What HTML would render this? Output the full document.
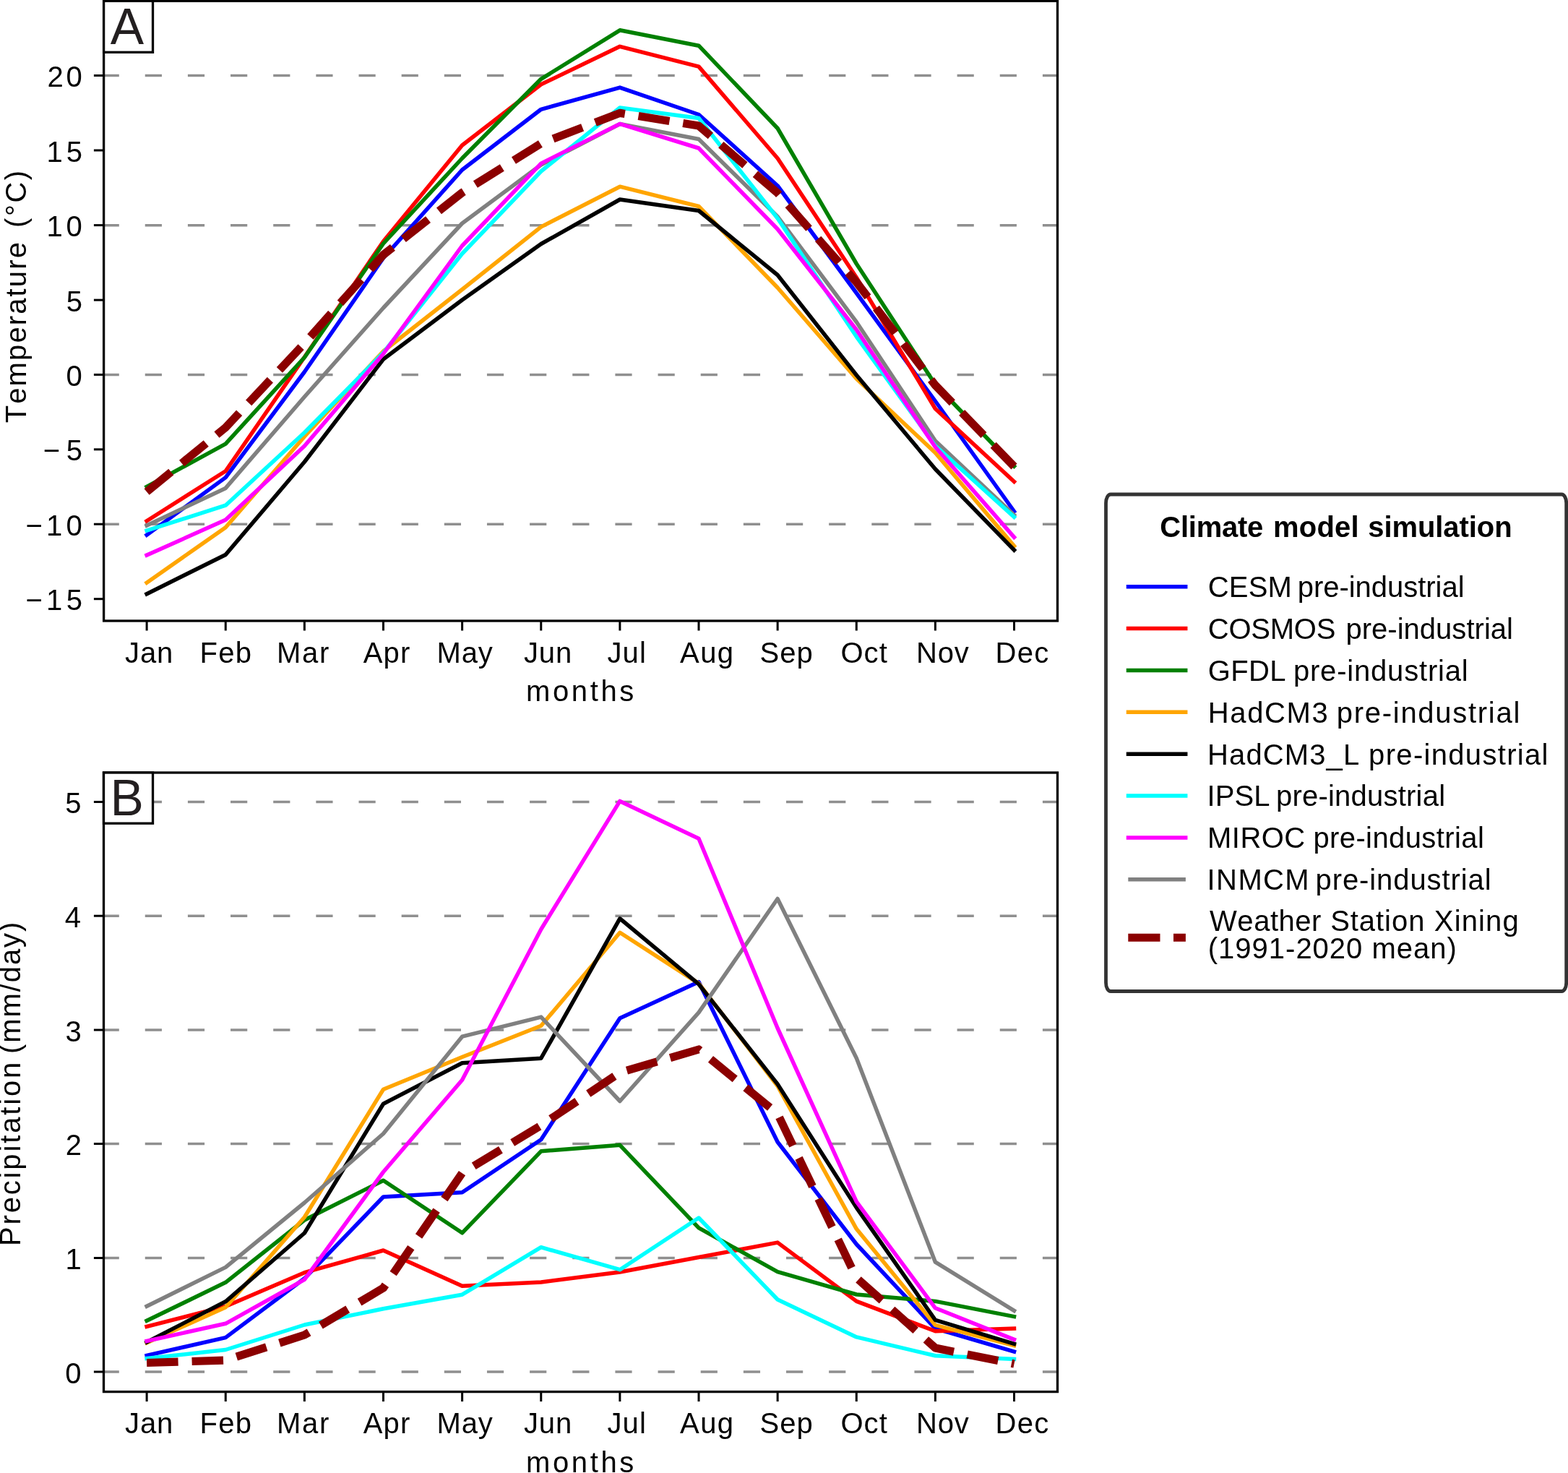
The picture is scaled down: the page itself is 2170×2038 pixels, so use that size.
<!DOCTYPE html>
<html><head><meta charset="utf-8"><title>Climate model simulation</title>
<style>
html,body{margin:0;padding:0;background:#fff;}
svg{display:block;}
text{font-family:"Liberation Sans",Arial,sans-serif;fill:#000;font-kerning:none;}
</style></head><body>
<svg xmlns="http://www.w3.org/2000/svg" width="2170" height="2038" viewBox="0 0 2170 2038">
<rect width="2170" height="2038" fill="#fff"/>
<clipPath id="ca"><rect x="143.6" y="1.4" width="1319.9" height="857.6"/></clipPath>
<line x1="141.6" y1="104.6" x2="1463.5" y2="104.6" stroke="#8f8f8f" stroke-width="3.5" stroke-dasharray="23.2 35.95" clip-path="url(#ca)"/>
<line x1="141.6" y1="311.8" x2="1463.5" y2="311.8" stroke="#8f8f8f" stroke-width="3.5" stroke-dasharray="23.2 35.95" clip-path="url(#ca)"/>
<line x1="141.6" y1="518.4" x2="1463.5" y2="518.4" stroke="#8f8f8f" stroke-width="3.5" stroke-dasharray="23.2 35.95" clip-path="url(#ca)"/>
<line x1="141.6" y1="725.2" x2="1463.5" y2="725.2" stroke="#8f8f8f" stroke-width="3.5" stroke-dasharray="23.2 35.95" clip-path="url(#ca)"/>
<polyline points="203.1,740.2 312.2,660.6 421.4,514.5 530.5,357.0 639.6,235.0 748.8,151.3 857.9,121.1 967.0,158.5 1076.1,257.0 1185.3,405.5 1294.4,555.0 1403.5,707.5" fill="none" stroke="#0000ff" stroke-width="5.5" stroke-linecap="square" stroke-linejoin="round" clip-path="url(#ca)"/>
<polyline points="203.1,720.8 312.2,651.8 421.4,494.0 530.5,334.0 639.6,201.0 748.8,116.8 857.9,64.3 967.0,92.1 1076.1,219.0 1185.3,384.0 1294.4,565.5 1403.5,666.3" fill="none" stroke="#ff0000" stroke-width="5.5" stroke-linecap="square" stroke-linejoin="round" clip-path="url(#ca)"/>
<polyline points="203.1,673.4 312.2,614.2 421.4,494.5 530.5,337.0 639.6,219.0 748.8,109.3 857.9,41.8 967.0,63.2 1076.1,177.5 1185.3,365.0 1294.4,532.0 1403.5,645.0" fill="none" stroke="#008000" stroke-width="5.5" stroke-linecap="square" stroke-linejoin="round" clip-path="url(#ca)"/>
<polyline points="203.1,806.2 312.2,729.7 421.4,604.0 530.5,486.0 639.6,400.5 748.8,313.9 857.9,258.2 967.0,285.5 1076.1,398.0 1185.3,524.0 1294.4,626.5 1403.5,755.5" fill="none" stroke="#ffa500" stroke-width="5.5" stroke-linecap="square" stroke-linejoin="round" clip-path="url(#ca)"/>
<polyline points="203.1,821.7 312.2,767.5 421.4,639.0 530.5,497.0 639.6,415.0 748.8,337.5 857.9,276.0 967.0,291.5 1076.1,380.5 1185.3,519.0 1294.4,649.0 1403.5,761.0" fill="none" stroke="#000000" stroke-width="5.5" stroke-linecap="square" stroke-linejoin="round" clip-path="url(#ca)"/>
<polyline points="203.1,727.0 312.2,675.4 421.4,549.0 530.5,426.0 639.6,309.0 748.8,228.0 857.9,171.5 967.0,192.5 1076.1,299.7 1185.3,445.5 1294.4,610.0 1403.5,712.5" fill="none" stroke="#808080" stroke-width="5.5" stroke-linecap="square" stroke-linejoin="round" clip-path="url(#ca)"/>
<polyline points="203.1,734.0 312.2,699.2 421.4,598.5 530.5,488.0 639.6,351.0 748.8,237.0 857.9,148.9 967.0,163.5 1076.1,302.0 1185.3,465.8 1294.4,616.8 1403.5,715.3" fill="none" stroke="#00ffff" stroke-width="5.5" stroke-linecap="square" stroke-linejoin="round" clip-path="url(#ca)"/>
<polyline points="203.1,768.1 312.2,719.3 421.4,617.0 530.5,489.5 639.6,340.0 748.8,226.1 857.9,171.4 967.0,205.0 1076.1,317.0 1185.3,456.2 1294.4,618.5 1403.5,743.3" fill="none" stroke="#ff00ff" stroke-width="5.5" stroke-linecap="square" stroke-linejoin="round" clip-path="url(#ca)"/>
<polyline points="203.1,680.5 312.2,591.5 421.4,475.0 530.5,352.5 639.6,266.5 748.8,198.5 857.9,156.4 967.0,174.0 1076.1,267.0 1185.3,390.5 1294.4,533.0 1403.5,645.5" fill="none" stroke="#8b0000" stroke-width="11.2" stroke-dasharray="43.5 19" stroke-linejoin="round" clip-path="url(#ca)"/>
<rect x="143.6" y="1.4" width="1319.9" height="857.6" fill="none" stroke="#000" stroke-width="3.3"/>
<line x1="129.9" y1="104.5" x2="143.6" y2="104.5" stroke="#000" stroke-width="3"/>
<line x1="129.9" y1="208.0" x2="143.6" y2="208.0" stroke="#000" stroke-width="3"/>
<line x1="129.9" y1="311.6" x2="143.6" y2="311.6" stroke="#000" stroke-width="3"/>
<line x1="129.9" y1="415.1" x2="143.6" y2="415.1" stroke="#000" stroke-width="3"/>
<line x1="129.9" y1="518.4" x2="143.6" y2="518.4" stroke="#000" stroke-width="3"/>
<line x1="129.9" y1="621.8" x2="143.6" y2="621.8" stroke="#000" stroke-width="3"/>
<line x1="129.9" y1="725.2" x2="143.6" y2="725.2" stroke="#000" stroke-width="3"/>
<line x1="129.9" y1="828.7" x2="143.6" y2="828.7" stroke="#000" stroke-width="3"/>
<line x1="203.1" y1="859.0" x2="203.1" y2="872.5" stroke="#000" stroke-width="3"/>
<line x1="312.23" y1="859.0" x2="312.23" y2="872.5" stroke="#000" stroke-width="3"/>
<line x1="421.36" y1="859.0" x2="421.36" y2="872.5" stroke="#000" stroke-width="3"/>
<line x1="530.49" y1="859.0" x2="530.49" y2="872.5" stroke="#000" stroke-width="3"/>
<line x1="639.62" y1="859.0" x2="639.62" y2="872.5" stroke="#000" stroke-width="3"/>
<line x1="748.75" y1="859.0" x2="748.75" y2="872.5" stroke="#000" stroke-width="3"/>
<line x1="857.88" y1="859.0" x2="857.88" y2="872.5" stroke="#000" stroke-width="3"/>
<line x1="967.01" y1="859.0" x2="967.01" y2="872.5" stroke="#000" stroke-width="3"/>
<line x1="1076.1399999999999" y1="859.0" x2="1076.1399999999999" y2="872.5" stroke="#000" stroke-width="3"/>
<line x1="1185.27" y1="859.0" x2="1185.27" y2="872.5" stroke="#000" stroke-width="3"/>
<line x1="1294.3999999999999" y1="859.0" x2="1294.3999999999999" y2="872.5" stroke="#000" stroke-width="3"/>
<line x1="1403.5299999999997" y1="859.0" x2="1403.5299999999997" y2="872.5" stroke="#000" stroke-width="3"/>
<text x="65.59" y="120.10" font-size="40" letter-spacing="3.682">20</text>
<text x="64.55" y="223.60" font-size="40" letter-spacing="4.834">15</text>
<text x="64.55" y="327.20" font-size="40" letter-spacing="4.717">10</text>
<text x="91.63" y="430.70" font-size="40" letter-spacing="0.000">5</text>
<text x="91.52" y="534.00" font-size="40" letter-spacing="0.000">0</text>
<text x="59.63" y="637.40" font-size="40" letter-spacing="8.647">−5</text>
<text x="35.43" y="740.80" font-size="40" letter-spacing="5.242">−10</text>
<text x="35.43" y="844.30" font-size="40" letter-spacing="5.300">−15</text>
<text x="173.07" y="916.60" font-size="40" letter-spacing="0.865">Jan</text>
<text x="276.52" y="916.60" font-size="40" letter-spacing="1.268">Feb</text>
<text x="383.12" y="916.60" font-size="40" letter-spacing="1.679">Mar</text>
<text x="502.72" y="916.60" font-size="40" letter-spacing="1.198">Apr</text>
<text x="604.42" y="916.60" font-size="40" letter-spacing="0.946">May</text>
<text x="724.88" y="916.60" font-size="40" letter-spacing="0.915">Jun</text>
<text x="840.58" y="916.60" font-size="40" letter-spacing="1.034">Jul</text>
<text x="941.12" y="916.60" font-size="40" letter-spacing="1.342">Aug</text>
<text x="1051.48" y="916.60" font-size="40" letter-spacing="1.112">Sep</text>
<text x="1163.41" y="916.60" font-size="40" letter-spacing="1.080">Oct</text>
<text x="1268.02" y="916.60" font-size="40" letter-spacing="0.793">Nov</text>
<text x="1377.52" y="916.60" font-size="40" letter-spacing="1.302">Dec</text>
<text x="728.04" y="970.40" font-size="40" letter-spacing="3.606">months</text>
<rect x="143.6" y="1.4" width="67.9" height="70.89999999999999" fill="#fff" stroke="#000" stroke-width="3.3"/>
<clipPath id="cb"><rect x="143.5" y="1069.0" width="1320.0" height="856.5999999999999"/></clipPath>
<line x1="141.6" y1="1109.5" x2="1463.5" y2="1109.5" stroke="#8f8f8f" stroke-width="3.5" stroke-dasharray="23.2 35.95" clip-path="url(#cb)"/>
<line x1="141.6" y1="1267.2" x2="1463.5" y2="1267.2" stroke="#8f8f8f" stroke-width="3.5" stroke-dasharray="23.2 35.95" clip-path="url(#cb)"/>
<line x1="141.6" y1="1425.0" x2="1463.5" y2="1425.0" stroke="#8f8f8f" stroke-width="3.5" stroke-dasharray="23.2 35.95" clip-path="url(#cb)"/>
<line x1="141.6" y1="1582.5" x2="1463.5" y2="1582.5" stroke="#8f8f8f" stroke-width="3.5" stroke-dasharray="23.2 35.95" clip-path="url(#cb)"/>
<line x1="141.6" y1="1740.5" x2="1463.5" y2="1740.5" stroke="#8f8f8f" stroke-width="3.5" stroke-dasharray="23.2 35.95" clip-path="url(#cb)"/>
<line x1="141.6" y1="1898.0" x2="1463.5" y2="1898.0" stroke="#8f8f8f" stroke-width="3.5" stroke-dasharray="23.2 35.95" clip-path="url(#cb)"/>
<polyline points="203.1,1875.5 312.2,1850.6 421.4,1768.8 530.5,1656.0 639.6,1649.8 748.8,1576.8 857.9,1408.8 967.0,1358.5 1076.1,1580.0 1185.3,1721.5 1294.4,1838.0 1403.5,1870.0" fill="none" stroke="#0000ff" stroke-width="5.5" stroke-linecap="square" stroke-linejoin="round" clip-path="url(#cb)"/>
<polyline points="203.1,1835.3 312.2,1807.5 421.4,1760.7 530.5,1730.0 639.6,1779.3 748.8,1773.9 857.9,1760.0 967.0,1739.5 1076.1,1719.1 1185.3,1800.4 1294.4,1841.7 1403.5,1838.1" fill="none" stroke="#ff0000" stroke-width="5.5" stroke-linecap="square" stroke-linejoin="round" clip-path="url(#cb)"/>
<polyline points="203.1,1827.3 312.2,1774.3 421.4,1688.0 530.5,1633.2 639.6,1705.8 748.8,1592.8 857.9,1584.3 967.0,1698.9 1076.1,1759.6 1185.3,1791.0 1294.4,1800.4 1403.5,1821.6" fill="none" stroke="#008000" stroke-width="5.5" stroke-linecap="square" stroke-linejoin="round" clip-path="url(#cb)"/>
<polyline points="203.1,1857.8 312.2,1808.8 421.4,1684.0 530.5,1507.2 639.6,1462.5 748.8,1419.3 857.9,1290.3 967.0,1360.6 1076.1,1502.5 1185.3,1700.3 1294.4,1833.4 1403.5,1861.7" fill="none" stroke="#ffa500" stroke-width="5.5" stroke-linecap="square" stroke-linejoin="round" clip-path="url(#cb)"/>
<polyline points="203.1,1857.0 312.2,1800.8 421.4,1706.0 530.5,1527.2 639.6,1470.7 748.8,1464.2 857.9,1270.8 967.0,1361.7 1076.1,1500.0 1185.3,1670.8 1294.4,1826.3 1403.5,1859.3" fill="none" stroke="#000000" stroke-width="5.5" stroke-linecap="square" stroke-linejoin="round" clip-path="url(#cb)"/>
<polyline points="203.1,1807.2 312.2,1753.4 421.4,1664.0 530.5,1568.5 639.6,1434.2 748.8,1407.1 857.9,1523.5 967.0,1400.9 1076.1,1243.5 1185.3,1464.0 1294.4,1746.2 1403.5,1813.4" fill="none" stroke="#808080" stroke-width="5.5" stroke-linecap="square" stroke-linejoin="round" clip-path="url(#cb)"/>
<polyline points="203.1,1879.5 312.2,1867.5 421.4,1833.0 530.5,1810.8 639.6,1791.2 748.8,1725.7 857.9,1756.7 967.0,1685.0 1076.1,1798.0 1185.3,1849.9 1294.4,1875.8 1403.5,1880.5" fill="none" stroke="#00ffff" stroke-width="5.5" stroke-linecap="square" stroke-linejoin="round" clip-path="url(#cb)"/>
<polyline points="203.1,1855.4 312.2,1831.3 421.4,1770.4 530.5,1621.5 639.6,1494.3 748.8,1285.7 857.9,1108.4 967.0,1160.2 1076.1,1422.5 1185.3,1662.6 1294.4,1809.8 1403.5,1853.4" fill="none" stroke="#ff00ff" stroke-width="5.5" stroke-linecap="square" stroke-linejoin="round" clip-path="url(#cb)"/>
<polyline points="203.1,1885.5 312.2,1882.0 421.4,1847.0 530.5,1782.0 639.6,1623.0 748.8,1557.0 857.9,1484.0 967.0,1452.0 1076.1,1541.0 1185.3,1768.0 1294.4,1865.0 1403.5,1887.0" fill="none" stroke="#8b0000" stroke-width="11.2" stroke-dasharray="43.5 19" stroke-linejoin="round" clip-path="url(#cb)"/>
<rect x="143.5" y="1069.0" width="1320.0" height="856.5999999999999" fill="none" stroke="#000" stroke-width="3.3"/>
<line x1="129.9" y1="1109.5" x2="143.5" y2="1109.5" stroke="#000" stroke-width="3"/>
<line x1="129.9" y1="1267.2" x2="143.5" y2="1267.2" stroke="#000" stroke-width="3"/>
<line x1="129.9" y1="1425.0" x2="143.5" y2="1425.0" stroke="#000" stroke-width="3"/>
<line x1="129.9" y1="1582.5" x2="143.5" y2="1582.5" stroke="#000" stroke-width="3"/>
<line x1="129.9" y1="1740.5" x2="143.5" y2="1740.5" stroke="#000" stroke-width="3"/>
<line x1="129.9" y1="1898.0" x2="143.5" y2="1898.0" stroke="#000" stroke-width="3"/>
<line x1="203.1" y1="1925.6" x2="203.1" y2="1939.1" stroke="#000" stroke-width="3"/>
<line x1="312.23" y1="1925.6" x2="312.23" y2="1939.1" stroke="#000" stroke-width="3"/>
<line x1="421.36" y1="1925.6" x2="421.36" y2="1939.1" stroke="#000" stroke-width="3"/>
<line x1="530.49" y1="1925.6" x2="530.49" y2="1939.1" stroke="#000" stroke-width="3"/>
<line x1="639.62" y1="1925.6" x2="639.62" y2="1939.1" stroke="#000" stroke-width="3"/>
<line x1="748.75" y1="1925.6" x2="748.75" y2="1939.1" stroke="#000" stroke-width="3"/>
<line x1="857.88" y1="1925.6" x2="857.88" y2="1939.1" stroke="#000" stroke-width="3"/>
<line x1="967.01" y1="1925.6" x2="967.01" y2="1939.1" stroke="#000" stroke-width="3"/>
<line x1="1076.1399999999999" y1="1925.6" x2="1076.1399999999999" y2="1939.1" stroke="#000" stroke-width="3"/>
<line x1="1185.27" y1="1925.6" x2="1185.27" y2="1939.1" stroke="#000" stroke-width="3"/>
<line x1="1294.3999999999999" y1="1925.6" x2="1294.3999999999999" y2="1939.1" stroke="#000" stroke-width="3"/>
<line x1="1403.5299999999997" y1="1925.6" x2="1403.5299999999997" y2="1939.1" stroke="#000" stroke-width="3"/>
<text x="90.33" y="1125.10" font-size="40" letter-spacing="0.000">5</text>
<text x="89.83" y="1282.80" font-size="40" letter-spacing="0.000">4</text>
<text x="90.41" y="1440.60" font-size="40" letter-spacing="0.000">3</text>
<text x="90.67" y="1598.10" font-size="40" letter-spacing="0.000">2</text>
<text x="90.61" y="1756.10" font-size="40" letter-spacing="0.000">1</text>
<text x="90.22" y="1913.60" font-size="40" letter-spacing="0.000">0</text>
<text x="173.07" y="1983.20" font-size="40" letter-spacing="0.865">Jan</text>
<text x="276.52" y="1983.20" font-size="40" letter-spacing="1.268">Feb</text>
<text x="383.12" y="1983.20" font-size="40" letter-spacing="1.679">Mar</text>
<text x="502.72" y="1983.20" font-size="40" letter-spacing="1.198">Apr</text>
<text x="604.42" y="1983.20" font-size="40" letter-spacing="0.946">May</text>
<text x="724.88" y="1983.20" font-size="40" letter-spacing="0.915">Jun</text>
<text x="840.58" y="1983.20" font-size="40" letter-spacing="1.034">Jul</text>
<text x="941.12" y="1983.20" font-size="40" letter-spacing="1.342">Aug</text>
<text x="1051.48" y="1983.20" font-size="40" letter-spacing="1.112">Sep</text>
<text x="1163.41" y="1983.20" font-size="40" letter-spacing="1.080">Oct</text>
<text x="1268.02" y="1983.20" font-size="40" letter-spacing="0.793">Nov</text>
<text x="1377.52" y="1983.20" font-size="40" letter-spacing="1.302">Dec</text>
<text x="728.04" y="2037.00" font-size="40" letter-spacing="3.606">months</text>
<rect x="143.5" y="1069.0" width="68.0" height="70.20000000000005" fill="#fff" stroke="#000" stroke-width="3.3"/>
<text x="152.66" y="60.75" font-size="69.5" letter-spacing="0.000" style="fill:#231f20">A</text>
<text x="152.40" y="1128.10" font-size="69.5" letter-spacing="0.000" style="fill:#231f20">B</text>
<text x="36.00" y="585.30" font-size="40" letter-spacing="2.119" transform="rotate(-90 36.00 585.30)">Temperature</text>
<text x="36.00" y="314.98" font-size="40" letter-spacing="2.546" transform="rotate(-90 36.00 314.98)">(°C)</text>
<text x="28.50" y="1724.08" font-size="40" letter-spacing="2.855" transform="rotate(-90 28.50 1724.08)">Precipitation</text>
<text x="28.50" y="1458.08" font-size="40" letter-spacing="1.939" transform="rotate(-90 28.50 1458.08)">(mm/day)</text>
<rect x="1530.5" y="684.0" width="637.2" height="687.5" rx="6.5" ry="12" fill="#fff" stroke="#333333" stroke-width="4.8"/>
<text x="1605.36" y="742.60" font-size="40" font-weight="bold" letter-spacing="-0.247">Climate</text>
<text x="1762.06" y="742.60" font-size="40" font-weight="bold" letter-spacing="0.169">model</text>
<text x="1893.29" y="742.60" font-size="40" font-weight="bold" letter-spacing="-0.081">simulation</text>
<line x1="1561.5" y1="811.7" x2="1640.7" y2="811.7" stroke="#0000ff" stroke-width="5.5" stroke-linecap="square"/>
<text x="1671.77" y="826.10" font-size="40" letter-spacing="0.149">CESM</text>
<text x="1795.72" y="826.10" font-size="40" letter-spacing="-0.027">pre-industrial</text>
<line x1="1561.5" y1="869.6" x2="1640.7" y2="869.6" stroke="#ff0000" stroke-width="5.5" stroke-linecap="square"/>
<text x="1671.77" y="883.97" font-size="40" letter-spacing="-0.225">COSMOS</text>
<text x="1862.42" y="883.97" font-size="40" letter-spacing="0.026">pre-industrial</text>
<line x1="1561.5" y1="927.4" x2="1640.7" y2="927.4" stroke="#008000" stroke-width="5.5" stroke-linecap="square"/>
<text x="1671.79" y="941.84" font-size="40" letter-spacing="0.353">GFDL</text>
<text x="1789.92" y="941.84" font-size="40" letter-spacing="0.811">pre-industrial</text>
<line x1="1561.5" y1="985.3" x2="1640.7" y2="985.3" stroke="#ffa500" stroke-width="5.5" stroke-linecap="square"/>
<text x="1671.72" y="999.71" font-size="40" letter-spacing="1.641">HadCM3</text>
<text x="1849.82" y="999.71" font-size="40" letter-spacing="1.711">pre-industrial</text>
<line x1="1561.5" y1="1043.2" x2="1640.7" y2="1043.2" stroke="#000000" stroke-width="5.5" stroke-linecap="square"/>
<text x="1671.02" y="1057.58" font-size="40" letter-spacing="1.126">HadCM3_L</text>
<text x="1894.12" y="1057.58" font-size="40" letter-spacing="1.319">pre-industrial</text>
<line x1="1561.5" y1="1101.0" x2="1640.7" y2="1101.0" stroke="#00ffff" stroke-width="5.5" stroke-linecap="square"/>
<text x="1670.61" y="1115.45" font-size="40" letter-spacing="0.067">IPSL</text>
<text x="1765.92" y="1115.45" font-size="40" letter-spacing="0.226">pre-industrial</text>
<line x1="1561.5" y1="1158.9" x2="1640.7" y2="1158.9" stroke="#ff00ff" stroke-width="5.5" stroke-linecap="square"/>
<text x="1671.02" y="1173.32" font-size="40" letter-spacing="0.471">MIROC</text>
<text x="1817.42" y="1173.32" font-size="40" letter-spacing="0.396">pre-industrial</text>
<line x1="1561.3" y1="1216.8" x2="1640.9" y2="1216.8" stroke="#808080" stroke-width="5.5"/>
<text x="1670.61" y="1231.19" font-size="40" letter-spacing="1.386">INMCM</text>
<text x="1820.52" y="1231.19" font-size="40" letter-spacing="0.911">pre-industrial</text>
<line x1="1561.3" y1="1297.2" x2="1640.9" y2="1297.2" stroke="#8b0000" stroke-width="11" stroke-dasharray="44.2 18.5"/>
<text x="1674.12" y="1287.70" font-size="40" letter-spacing="0.511">Weather</text>
<text x="1841.18" y="1287.70" font-size="40" letter-spacing="0.947">Station</text>
<text x="1984.80" y="1287.70" font-size="40" letter-spacing="1.157">Xining</text>
<text x="1671.82" y="1325.80" font-size="40" letter-spacing="0.991">(1991-2020 mean)</text>
</svg>
</body></html>
